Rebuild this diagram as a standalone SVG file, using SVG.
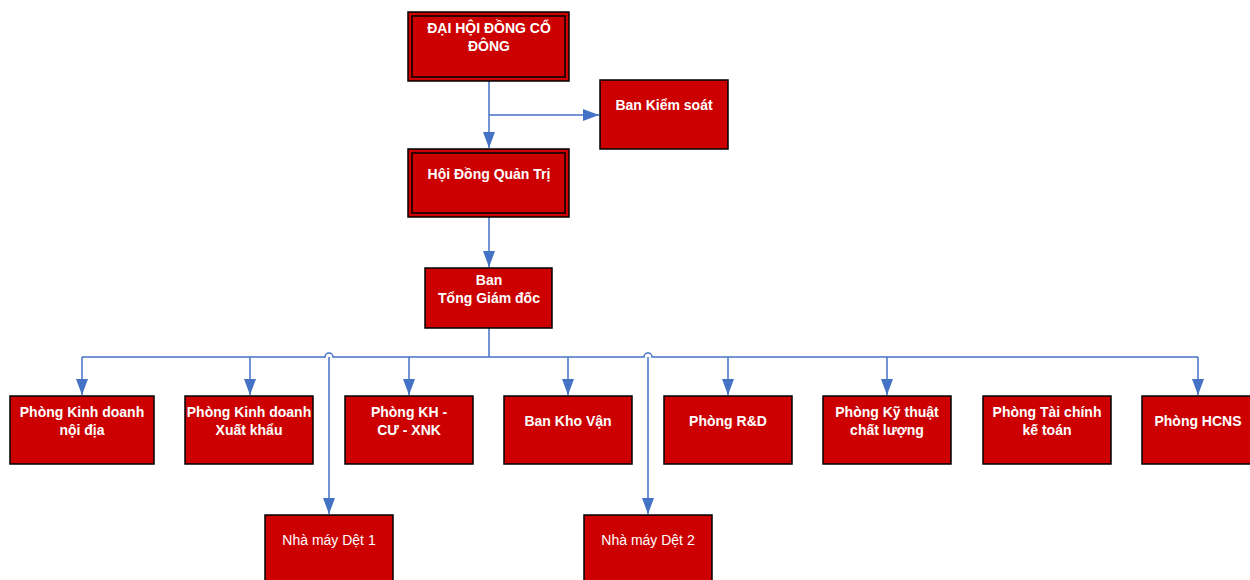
<svg xmlns="http://www.w3.org/2000/svg" width="1250" height="580" viewBox="0 0 1250 580">
<defs>
<marker id="arr" markerUnits="userSpaceOnUse" markerWidth="16" markerHeight="12" refX="16" refY="6" orient="auto">
<path d="M0,0 L16,6 L0,12 z" fill="#4472C4"/>
</marker>
<style>
.box{fill:#CC0000;stroke:#000;stroke-width:1.5}
.inner{fill:none;stroke:#000;stroke-width:1.5}
.t{font-family:"Liberation Sans",Arial,sans-serif;font-size:14px;font-weight:bold;fill:#fff;text-anchor:middle}
.tr{font-family:"Liberation Sans",Arial,sans-serif;font-size:14px;fill:#fff;text-anchor:middle}
.c{fill:none;stroke:#4472C4;stroke-width:1.5}
</style>
</defs>
<rect width="1250" height="580" fill="#fff"/>
<g id="connectors">
<path class="c" d="M489,81 V148" marker-end="url(#arr)"/>
<path class="c" d="M489,115 H599" marker-end="url(#arr)"/>
<path class="c" d="M489,217 V267" marker-end="url(#arr)"/>
<path class="c" d="M489,328 V357"/>
<path class="c" d="M82,357 H325 a4,4 0 0 1 8,0 H644 a4,4 0 0 1 8,0 H1198"/>
<path class="c" d="M82,357 V395" marker-end="url(#arr)"/>
<path class="c" d="M250,357 V395" marker-end="url(#arr)"/>
<path class="c" d="M409,357 V395" marker-end="url(#arr)"/>
<path class="c" d="M568,357 V395" marker-end="url(#arr)"/>
<path class="c" d="M728,357 V395" marker-end="url(#arr)"/>
<path class="c" d="M887,357 V395" marker-end="url(#arr)"/>
<path class="c" d="M1198,357 V395" marker-end="url(#arr)"/>
<path class="c" d="M329,357 V514" marker-end="url(#arr)"/>
<path class="c" d="M648,357 V514" marker-end="url(#arr)"/>
</g>
<g id="dhdcd">
<rect class="box" x="408" y="12" width="161" height="69"/>
<rect class="inner" x="412" y="16" width="153" height="61"/>
<text class="t" x="489" y="33">ĐẠI HỘI ĐỒNG CỔ</text>
<text class="t" x="489" y="51">ĐÔNG</text>
</g>
<g id="bks">
<rect class="box" x="600" y="80" width="128" height="69"/>
<text class="t" x="664" y="110">Ban Kiểm soát</text>
</g>
<g id="hdqt">
<rect class="box" x="408" y="149" width="161" height="68"/>
<rect class="inner" x="412" y="153" width="153" height="60"/>
<text class="t" x="489" y="179">Hội Đồng Quản Trị</text>
</g>
<g id="btgd">
<rect class="box" x="425" y="268" width="127" height="60"/>
<text class="t" x="489" y="285">Ban</text>
<text class="t" x="489" y="303">Tổng Giám đốc</text>
</g>
<g id="pkdnd">
<rect class="box" x="10" y="396" width="144" height="68"/>
<text class="t" x="82" y="417">Phòng Kinh doanh</text>
<text class="t" x="82" y="435">nội địa</text>
</g>
<g id="pkdxk">
<rect class="box" x="185" y="396" width="128" height="68"/>
<text class="t" x="249" y="417">Phòng Kinh doanh</text>
<text class="t" x="249" y="435">Xuất khẩu</text>
</g>
<g id="pkh">
<rect class="box" x="345" y="396" width="128" height="68"/>
<text class="t" x="409" y="417">Phòng KH -</text>
<text class="t" x="409" y="435">CƯ - XNK</text>
</g>
<g id="bkv">
<rect class="box" x="504" y="396" width="128" height="68"/>
<text class="t" x="568" y="426">Ban Kho Vận</text>
</g>
<g id="prd">
<rect class="box" x="664" y="396" width="128" height="68"/>
<text class="t" x="728" y="426">Phòng R&amp;D</text>
</g>
<g id="pktcl">
<rect class="box" x="823" y="396" width="128" height="68"/>
<text class="t" x="887" y="417">Phòng Kỹ thuật</text>
<text class="t" x="887" y="435">chất lượng</text>
</g>
<g id="ptckt">
<rect class="box" x="983" y="396" width="128" height="68"/>
<text class="t" x="1047" y="417">Phòng Tài chính</text>
<text class="t" x="1047" y="435">kế toán</text>
</g>
<g id="phcns">
<rect class="box" x="1142" y="396" width="128" height="68"/>
<text class="t" x="1198" y="426">Phòng HCNS</text>
</g>
<g id="nmd1">
<rect class="box" x="265" y="515" width="128" height="80"/>
<text class="tr" x="329" y="545">Nhà máy Dệt 1</text>
</g>
<g id="nmd2">
<rect class="box" x="584" y="515" width="128" height="80"/>
<text class="tr" x="648" y="545">Nhà máy Dệt 2</text>
</g>
</svg>
